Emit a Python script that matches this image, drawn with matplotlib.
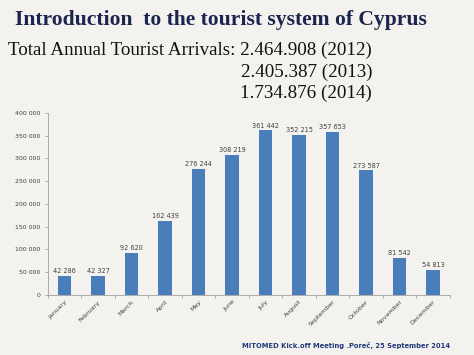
import matplotlib.pyplot as plt
import matplotlib.ticker as mticker

# Monthly tourist arrivals, Cyprus
months = ['January', 'February', 'March', 'April', 'May', 'June', 'July',
          'August', 'September', 'October', 'November', 'December']
arrivals = [42286, 42327, 92620, 162439, 276244, 308219, 361442,
            352215, 357653, 273587, 81542, 54813]
yticks = [0, 50000, 100000, 150000, 200000, 250000, 300000, 350000, 400000]

totals = ['2.464.908 (2012)', '2.405.387 (2013)', '1.734.876 (2014)']

bg = '#f4f2ee'
fig = plt.figure(figsize=(4.74, 3.55), dpi=100, facecolor=bg)
ax = fig.add_axes([0.101, 0.169, 0.848, 0.513], facecolor=bg)

x = list(range(len(months)))
ax.bar(x, arrivals, width=0.4, color='#4a7ebb')

def spaced(v, pos=None):
    return f'{int(v):,}'.replace(',', ' ')

for xi, v in zip(x, arrivals):
    ax.text(xi, v + 4000, spaced(v), ha='center', va='bottom',
            fontsize=4.7, color='#404040')

ax.set_xlim(-0.5, len(months) - 0.5)
ax.set_ylim(0, 400000)
ax.set_yticks(yticks)
ax.yaxis.set_major_formatter(mticker.FuncFormatter(spaced))
ax.tick_params(axis='y', labelsize=4.5, labelcolor='#404040', color='#a0a0a0',
               length=2, width=0.6)

ax.set_xticks(x)
ax.set_xticklabels(months, rotation=45, ha='right', rotation_mode='anchor',
                   fontsize=4.5, color='#404040')
ax.tick_params(axis='x', length=0, pad=3)
ax.set_xticks([i + 0.5 for i in range(-1, len(months))], minor=True)
ax.tick_params(axis='x', which='minor', length=2, color='#a0a0a0', width=0.6)

for s in ['top', 'right']:
    ax.spines[s].set_visible(False)
for s in ['left', 'bottom']:
    ax.spines[s].set_color('#a0a0a0')
    ax.spines[s].set_linewidth(0.6)

# Header texts
fig.text(0.032, 0.945, 'Introduction  to the tourist system of Cyprus',
         fontsize=15.6, fontweight='bold', family='Liberation Serif',
         color='#1c2550', va='center')
fig.text(0.785, 0.859, 'Total Annual Tourist Arrivals: ' + totals[0],
         fontsize=13.7, family='Liberation Serif', color='#111111',
         va='center', ha='right')
fig.text(0.785, 0.797, totals[1], fontsize=13.7, family='Liberation Serif',
         color='#111111', va='center', ha='right')
fig.text(0.785, 0.738, totals[2], fontsize=13.7, family='Liberation Serif',
         color='#111111', va='center', ha='right')

fig.text(0.95, 0.028, 'MITOMED Kick.off Meeting .Poreč, 25 September 2014',
         fontsize=4.9, fontweight='bold', color='#1f3a7a', ha='right',
         va='center')

fig.savefig('out.png', dpi=100, facecolor=bg)
